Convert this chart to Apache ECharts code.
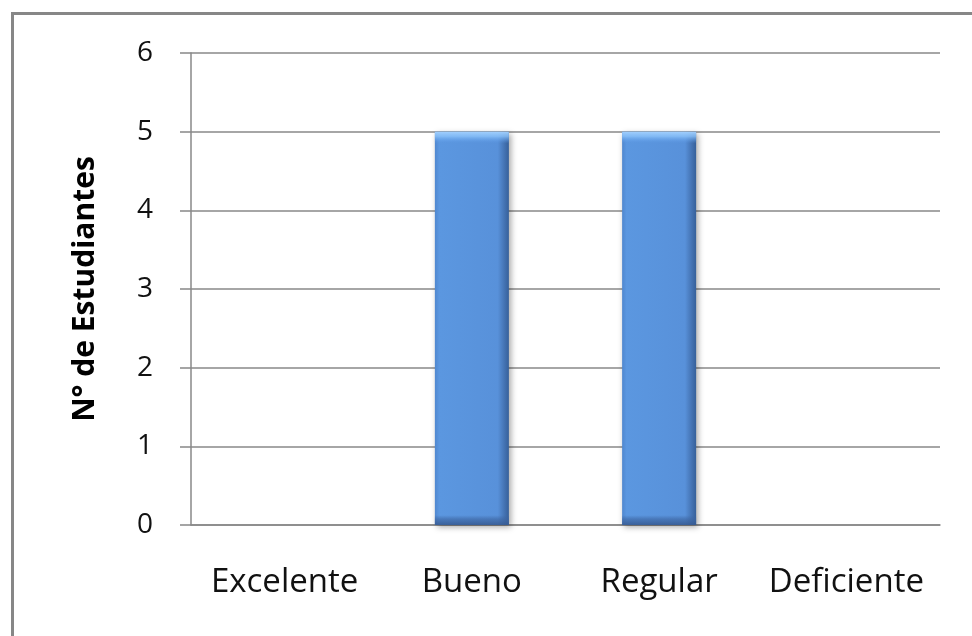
<!DOCTYPE html>
<html>
<head>
<meta charset="utf-8">
<script src="https://cdn.jsdelivr.net/npm/echarts@6/dist/echarts.min.js"></script>
<style>
html,body{margin:0;padding:0;background:#fff;}
#chart{width:972px;height:636px;}
</style>
</head>
<body>
<div id="chart"></div>
<script>
var categories = ['Excelente', 'Bueno', 'Regular', 'Deficiente'];
var values = [0, 5, 5, 0];
var yTicks = [0, 1, 2, 3, 4, 5, 6];
var yTitle = 'N° de Estudiantes';

var chart = echarts.init(document.getElementById('chart'));
var font = '"Open Sans", "Noto Sans", sans-serif';

function hideZero(style) {
  return values.map(function (v) {
    return v === 0 ? { value: v, itemStyle: { opacity: 0 } } : { value: v, itemStyle: style };
  });
}

chart.setOption({
  backgroundColor: '#ffffff',
  animation: false,
  graphic: [{
    type: 'rect',
    shape: { x: 12.5, y: 13.5, width: 1000, height: 700 },
    style: { fill: 'none', stroke: '#878787', lineWidth: 3 },
    silent: true
  }],
  grid: { left: 191, right: 32, top: 53, bottom: 111 },
  xAxis: {
    type: 'category',
    data: categories,
    axisLine: { show: true, lineStyle: { color: '#888888', width: 1.5 } },
    axisTick: { show: false },
    axisLabel: { color: '#111', fontSize: 33, fontFamily: font, margin: 41, interval: 0, hideOverlap: false }
  },
  yAxis: {
    type: 'value',
    min: yTicks[0],
    max: yTicks[yTicks.length - 1],
    interval: 1,
    name: yTitle,
    nameLocation: 'middle',
    nameRotate: 90,
    nameGap: 91,
    nameTextStyle: { color: '#000', fontSize: 30, fontWeight: 'bold', fontFamily: font },
    axisLine: { show: true, lineStyle: { color: '#888888', width: 1.5 } },
    axisTick: { show: true, length: 11, lineStyle: { color: '#888888', width: 1.5 } },
    axisLabel: { color: '#111', fontSize: 28, fontFamily: font, margin: 38 },
    splitLine: { show: true, lineStyle: { color: '#888888', width: 1.5 } }
  },
  series: [{
    type: 'bar',
    barWidth: 74,
    data: hideZero({
      color: new echarts.graphic.LinearGradient(0, 0, 1, 0, [
        { offset: 0, color: '#4f87cf' },
        { offset: 0.06, color: '#5b97e0' },
        { offset: 0.85, color: '#5891da' },
        { offset: 0.94, color: '#4473b3' },
        { offset: 1, color: '#36609a' }
      ]),
      shadowColor: 'rgba(0,0,0,0.35)',
      shadowBlur: 6,
      shadowOffsetX: 2,
      shadowOffsetY: 2
    })
  }, {
    type: 'bar',
    barWidth: 74,
    barGap: '-100%',
    silent: true,
    data: hideZero({
      color: new echarts.graphic.LinearGradient(0, 0, 0, 1, [
        { offset: 0, color: 'rgba(165,210,255,0.95)' },
        { offset: 0.012, color: 'rgba(140,195,250,0.8)' },
        { offset: 0.022, color: 'rgba(110,170,240,0.4)' },
        { offset: 0.03, color: 'rgba(91,151,224,0)' },
        { offset: 0.975, color: 'rgba(60,100,160,0)' },
        { offset: 0.985, color: 'rgba(60,100,160,0.6)' },
        { offset: 1, color: 'rgba(55,90,145,0.9)' }
      ])
    })
  }]
});
</script>
</body>
</html>
